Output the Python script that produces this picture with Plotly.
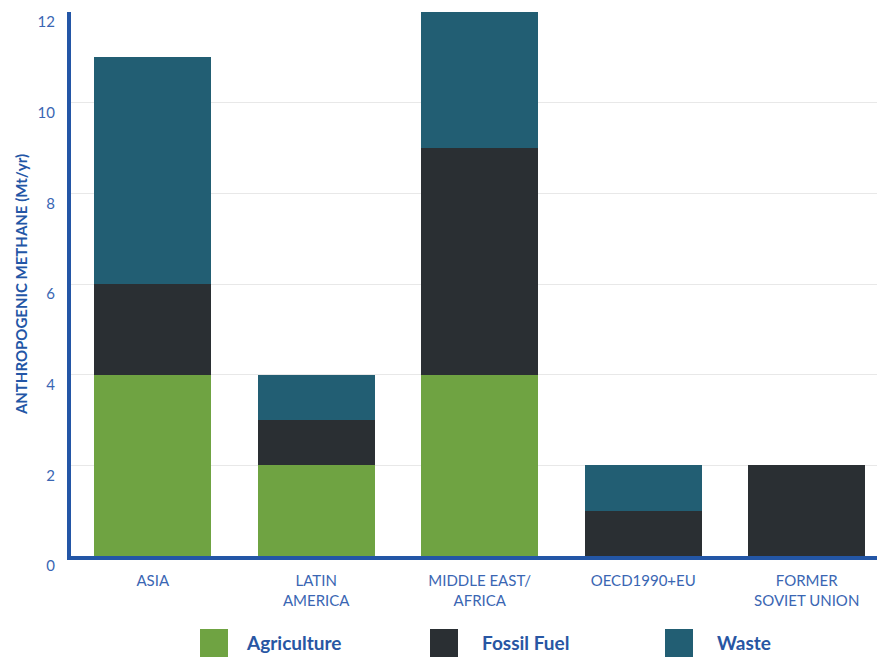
import plotly.graph_objects as go

categories = ["ASIA", "LATIN<br>AMERICA", "MIDDLE EAST/<br>AFRICA", "OECD1990+EU", "FORMER<br>SOVIET UNION"]
agriculture = [4, 2, 4, 0, 0]
fossil_fuel = [2, 1, 5, 1, 2]
waste = [5, 1, 3, 1, 0]
series_names = ["Agriculture", "Fossil Fuel", "Waste"]
colors = ["#6fa342", "#2a2f33", "#225e73"]
y_ticks = [0, 2, 4, 6, 8, 10, 12]

BLUE = "#2356a6"
TICK_BLUE = "#3a66b3"
FONT = "Lato, 'Open Sans', sans-serif"

fig = go.Figure()
for name, vals, col in zip(series_names, [agriculture, fossil_fuel, waste], colors):
    fig.add_trace(go.Bar(x=categories, y=vals, name=name, marker=dict(color=col, line=dict(width=0)),
                         showlegend=False))

# manual legend (large squares + bold text)
legend_x = [200, 430, 665]
text_x = [244, 480, 715]
W, H = 877, 657
ml, mr, mt, mb = 71, 0, 12, 101
pw, ph = W - ml - mr, H - mt - mb
shapes = []
annotations = []
for lx, tx, name, col in zip(legend_x, text_x, series_names, colors):
    x0 = (lx - ml) / pw
    x1 = (lx + 28 - ml) / pw
    y0 = (H - 657 - mb) / ph
    y1 = (H - 629 - mb) / ph
    shapes.append(dict(type="rect", xref="paper", yref="paper", x0=x0, x1=x1, y0=y0, y1=y1,
                       fillcolor=col, line=dict(width=0)))
    annotations.append(dict(xref="paper", yref="paper", x=(tx - ml) / pw, y=(H - 642 - mb) / ph,
                            text="<b>%s</b>" % name, showarrow=False, xanchor="left", yanchor="middle",
                            font=dict(family=FONT, size=19, color="#2856a3")))

fig.update_layout(
    width=W, height=H,
    margin=dict(l=ml, r=mr, t=mt, b=mb, autoexpand=False),
    barmode="stack",
    bargap=0.284,
    plot_bgcolor="white",
    paper_bgcolor="white",
    font=dict(family=FONT, color=TICK_BLUE),
    shapes=shapes,
    annotations=annotations,
    xaxis=dict(
        range=[-0.5, 4.43],
        automargin=False,
        showline=True, linecolor=BLUE, linewidth=4,
        showgrid=False, ticks="", ticklabelstandoff=8,
        tickfont=dict(family=FONT, size=15, color=TICK_BLUE),
        fixedrange=True,
    ),
    yaxis=dict(
        range=[0, 12],
        automargin=False,
        tickvals=y_ticks,
        showline=True, linecolor=BLUE, linewidth=4,
        showgrid=True, gridcolor="#e8e8e8", gridwidth=1,
        zeroline=False, ticks="",
        ticklabelstandoff=9, ticklabelshift=10,
        tickfont=dict(family=FONT, size=15, color=TICK_BLUE),
        title=dict(text="<b>ANTHROPOGENIC METHANE (Mt/yr)</b>",
                   font=dict(family=FONT, size=15, color=BLUE), standoff=7),
    ),
)

fig.write_html("out.html", config={"displayModeBar": False},
               post_script="document.body.style.margin='0';")
